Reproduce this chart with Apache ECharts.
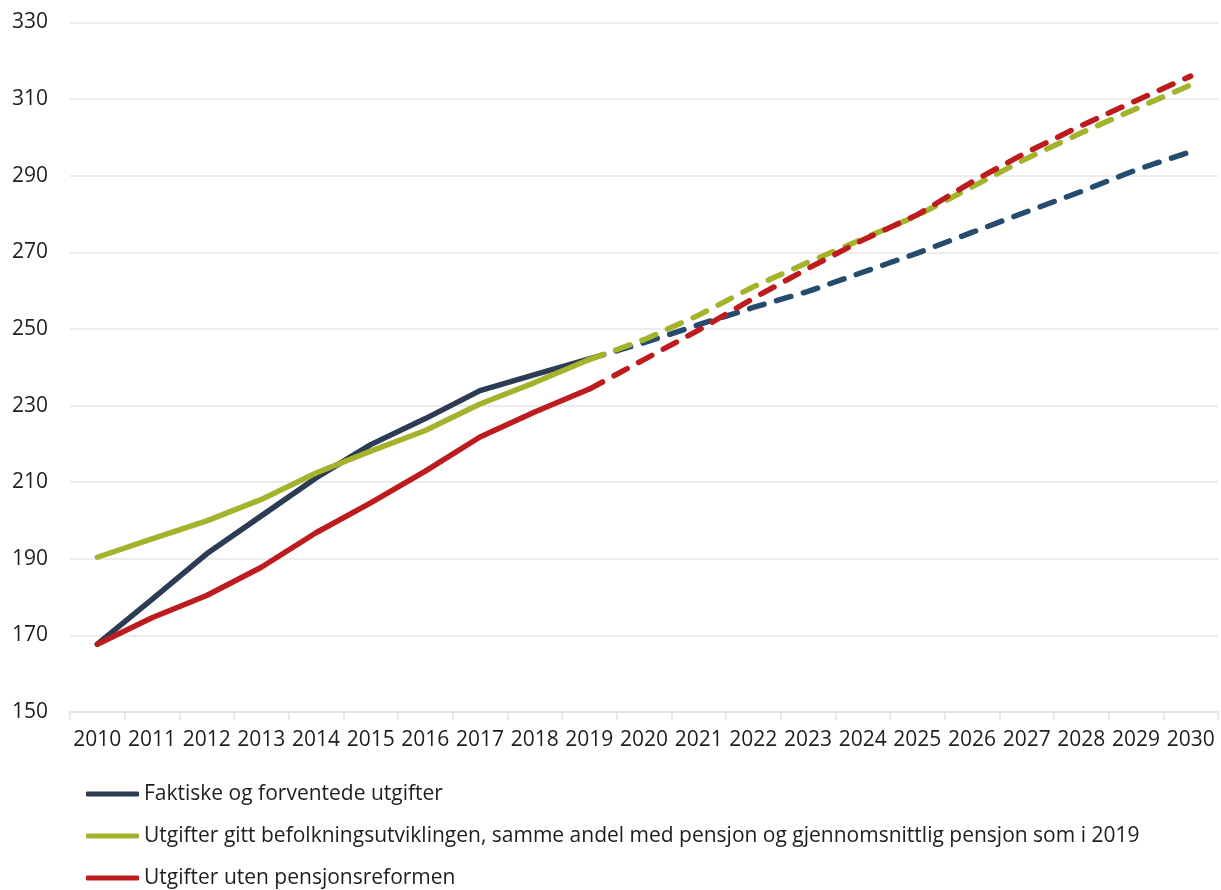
<!DOCTYPE html>
<html>
<head>
<meta charset="utf-8">
<script src="https://cdn.jsdelivr.net/npm/echarts@6/dist/echarts.min.js"></script>
<style>
  html, body { margin: 0; padding: 0; background: #ffffff; }
  #chart { width: 1221px; height: 890px; }
</style>
</head>
<body>
<div id="chart"></div>
<script>
// Years on the x axis
const years = ['2010','2011','2012','2013','2014','2015','2016','2017','2018','2019','2020',
               '2021','2022','2023','2024','2025','2026','2027','2028','2029','2030'];

// Series names
const nameActual = 'Faktiske og forventede utgifter';
const nameDemography = 'Utgifter gitt befolkningsutviklingen, samme andel med pensjon og gjennomsnittlig pensjon som i 2019';
const nameNoReform = 'Utgifter uten pensjonsreformen';

// Historical values 2010–2019
const actualHist = [167.7, 179.4, 191.3, 201.2, 211.1, 219.8, 226.6, 233.9, 238.1, 242.2];
const demographyHist = [190.4, 195.2, 199.9, 205.5, 212.4, 218.1, 223.5, 230.4, 236.0, 242.0];
const noReformHist = [167.7, 174.6, 180.4, 187.8, 196.8, 204.6, 212.9, 221.8, 228.3, 234.3];

// Projected values 2019–2030
const actualProj = [242.2, 246.4, 251.1, 255.6, 259.8, 264.8, 269.8, 275.2, 280.6, 285.9, 291.5, 296.3];
const demographyProj = [242.0, 247.2, 253.6, 261.0, 267.4, 273.5, 279.6, 287.1, 294.5, 301.2, 307.5, 313.7];
const noReformProj = [234.3, 242.0, 249.7, 258.0, 265.8, 273.2, 279.8, 288.4, 296.1, 303.1, 309.6, 316.0];

// Y axis range
const yMin = 150, yMax = 330, yStep = 20;

const FONT = '"Open Sans", "Noto Sans", sans-serif';
const TEXT = '#1e1e1e';
const FS = 21;

const C_ACTUAL = '#2b3c54';
const C_ACTUAL_PROJ = '#264c6d';
const C_DEMO = '#a5b22b';
const C_NOREF = '#be1b1f';
const LW = 5.5;

// Pad history to the full year span, and shift projections to start at 2019
function histData(arr) {
  return years.map((_, i) => (i < arr.length ? arr[i] : null));
}
function projData(arr) {
  const start = years.length - arr.length;
  return years.map((_, i) => (i >= start ? arr[i - start] : null));
}

function solid(name, data, color, z) {
  return {
    name, type: 'line', data: histData(data), symbol: 'none', z,
    connectNulls: false, silent: true,
    lineStyle: { color, width: LW, cap: 'round', join: 'round' },
    itemStyle: { color }
  };
}
function dashed(name, data, color, z) {
  return {
    name, type: 'line', data: projData(data), symbol: 'none', z,
    connectNulls: false, silent: true,
    lineStyle: { color, width: LW, type: [15, 13], cap: 'round', join: 'round' },
    itemStyle: { color }
  };
}

// One legend row per series, stacked under the plot
function legendRow(name, top) {
  return {
    orient: 'vertical',
    left: 81,
    top,
    icon: 'roundRect',
    itemWidth: 53,
    itemHeight: 5,
    selectedMode: false,
    data: [name],
    textStyle: { fontFamily: FONT, fontSize: FS, color: TEXT, lineHeight: 26 }
  };
}

const chart = echarts.init(document.getElementById('chart'), null, { renderer: 'canvas' });

chart.setOption({
  animation: false,
  backgroundColor: '#ffffff',
  textStyle: { fontFamily: FONT },
  grid: { left: 70, right: 3, top: 22.5, bottom: 178, containLabel: false },
  legend: [
    legendRow(nameActual, 776),
    legendRow(nameDemography, 818),
    legendRow(nameNoReform, 860)
  ],
  xAxis: {
    type: 'category',
    data: years,
    boundaryGap: true,
    axisLine: { show: true, lineStyle: { color: '#e3e3e3', width: 2 } },
    axisTick: { show: true, length: 8, lineStyle: { color: '#e3e3e3', width: 1.5 } },
    axisLabel: { fontFamily: FONT, fontSize: FS, color: TEXT, margin: 18, interval: 0 },
    splitLine: { show: false }
  },
  yAxis: {
    type: 'value',
    min: yMin, max: yMax, interval: yStep,
    axisLine: { show: false },
    axisTick: { show: false },
    axisLabel: { fontFamily: FONT, fontSize: FS, color: TEXT, margin: 22 },
    splitLine: { show: true, lineStyle: { color: '#e6e6e6', width: 1.5 } }
  },
  series: [
    solid(nameActual, actualHist, C_ACTUAL, 2),
    solid(nameDemography, demographyHist, C_DEMO, 3),
    solid(nameNoReform, noReformHist, C_NOREF, 4),
    dashed(nameActual + ' (framskrevet)', actualProj, C_ACTUAL_PROJ, 2),
    dashed(nameDemography + ' (framskrevet)', demographyProj, C_DEMO, 3),
    dashed(nameNoReform + ' (framskrevet)', noReformProj, C_NOREF, 4)
  ]
});
</script>
</body>
</html>
